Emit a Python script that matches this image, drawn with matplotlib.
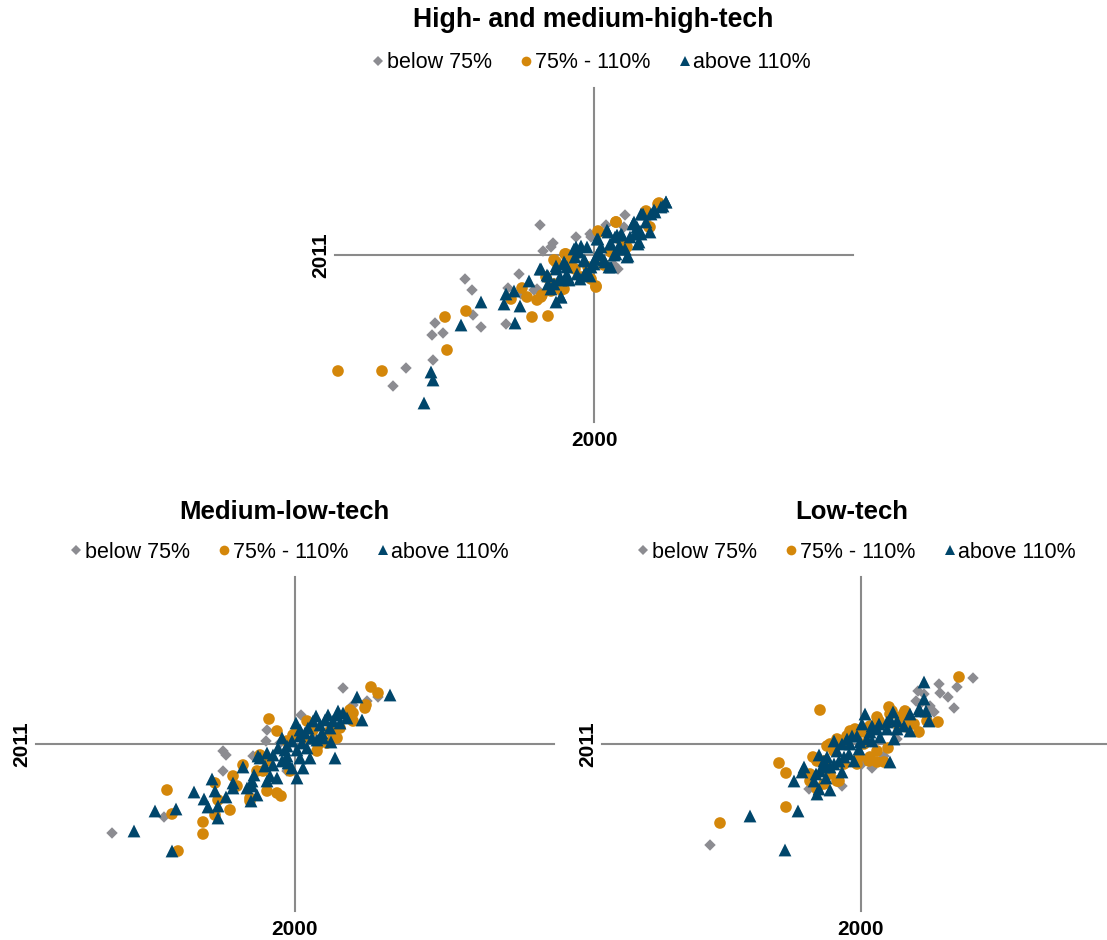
import matplotlib
matplotlib.use('Agg')
import matplotlib.pyplot as plt
from matplotlib.lines import Line2D

plt.rcParams['font.family'] = ['Liberation Sans', 'DejaVu Sans']

GRAY = '#8c8c91'
ORANGE = '#d4870a'
NAVY = '#00466b'

labels = ['below 75%', '75% - 110%', 'above 110%']
titles = ['High- and medium-high-tech', 'Medium-low-tech', 'Low-tech']
x_label = '2000'
y_label = '2011'

# High- and medium-high-tech
hi_below_x = [-0.54, -0.41, -0.43, -0.51, -0.18, 0.12, 0.31, -0.75, -0.86, -0.88, -1.29, -1.22, -1.21, -1.13,
              -1.59, -1.62, -1.51, -1.61, -1.88, -2.01, -0.60, -0.57, -0.73, -0.03, 0.20, 0.30, -0.38, 0.55, -0.20,
              -0.04, 0.24]
hi_below_y = [0.30, 0.12, 0.08, 0.04, 0.18, 0.30, 0.40, -0.19, -0.33, -0.69, -0.24, -0.35, -0.60, -0.72,
              -0.68, -0.80, -0.78, -1.05, -1.13, -1.31, -0.35, -0.34, -0.39, 0.18, -0.10, 0.28, -0.05, 0.38, -0.12,
              0.21, -0.14]
hi_mid_x = [-2.56, -2.12, -1.47, -1.49, -1.28, -0.62, -0.46, 0.02, -0.57, -0.67, -0.52, -0.72, -0.83, -0.40, -0.28,
            -0.20, 0.05, 0.22, 0.55, 0.65, -0.33, -0.30, -0.13, -0.03, 0.10, 0.17, 0.33, -0.23, -0.48, -0.40,
            -0.38, -0.29, -0.31, 0.04, 0.22, 0.52, 0.64, 0.56, -0.06, 0.02, -0.43, -0.53, 0.26, -0.19]
hi_mid_y = [-1.16, -1.16, -0.95, -0.62, -0.56, -0.62, -0.61, -0.31, -0.45, -0.42, -0.40, -0.33, -0.44, -0.05, 0.01,
            -0.02, 0.23, 0.33, 0.28, 0.52, -0.35, -0.34, -0.22, -0.24, -0.10, 0.03, 0.08, -0.07, -0.22, -0.29,
            -0.07, 0.01, -0.32, 0.24, 0.33, 0.44, 0.51, 0.28, -0.12, -0.32, -0.36, -0.42, 0.16, -0.14]
hi_above_x = [-1.70, -1.63, -1.61, -1.33, -1.13, -0.79, -0.90, -0.88, -0.74, -0.80, -0.65, -0.54, -0.47, -0.38,
              -0.33, -0.40, -0.28, -0.27, -0.20, -0.10, -0.15, -0.03, -0.10, -0.17, 0.03, 0.13, 0.23, 0.27, 0.17,
              0.10, 0.15, 0.33, 0.40, 0.47, 0.60, 0.72, 0.67, 0.45, 0.47, 0.43, 0.03, 0.07, 0.20, 0.28, -0.07,
              -0.33, -0.25, -0.43, -0.38, -0.30, 0.00,
              -0.53, -0.46, -0.38, -0.29, -0.28, -0.18, -0.13, -0.09, -0.08, 0.01, 0.04, 0.06, 0.14, 0.16, 0.17,
              0.21, 0.22, 0.25, 0.27, 0.31, 0.34, 0.36, 0.39, 0.41, 0.44, 0.46, 0.49, 0.52, 0.57, 0.61, 0.69,
              0.72, 0.56, 0.11, -0.19, -0.26, -0.34, -0.46, -0.33, -0.14, -0.04]
hi_above_y = [-1.48, -1.17, -1.25, -0.70, -0.47, -0.68, -0.49, -0.39, -0.51, -0.36, -0.26, -0.14, -0.20, -0.47,
              -0.42, -0.29, -0.22, -0.12, 0.06, -0.05, 0.03, -0.12, -0.20, -0.19, 0.16, 0.25, 0.20, 0.06, 0.11,
              -0.05, -0.12, -0.02, 0.33, 0.41, 0.45, 0.53, 0.48, 0.13, 0.21, 0.28, 0.00, 0.08, 0.00, 0.20, 0.08,
              -0.25, -0.25, -0.34, -0.14, -0.07, -0.09,
              -0.14, -0.21, -0.11, -0.09, -0.21, 0.08, 0.09, -0.06, -0.17, -0.04, 0.16, 0.01, 0.23, 0.11, -0.12,
              0.18, 0.01, 0.09, 0.21, 0.06, -0.01, 0.18, 0.31, 0.21, 0.11, 0.24, 0.41, 0.33, 0.41, 0.43, 0.49,
              0.53, 0.23, -0.07, -0.02, -0.22, -0.22, -0.29, -0.42, -0.24, -0.21]

# Medium-low-tech
ml_below_x = [-1.83, -1.31, -0.72, -0.69, -0.72, -0.28, -0.29, 0.06, 0.48, 0.83, 0.72, 0.58, -0.42, -0.08, 0.18, -0.15]
ml_below_y = [-0.89, -0.73, -0.07, -0.11, -0.27, 0.14, 0.03, 0.29, 0.56, 0.47, 0.43, 0.39, -0.12, -0.27, 0.06, 0.01]
ml_mid_x = [-1.28, -1.23, -0.92, -0.92, -1.17, -0.80, -0.65, -0.80, -0.77, -0.62, -0.58, -0.52, -0.26, -0.18,
            -0.28, -0.18, -0.14, -0.45, -0.05, -0.02, 0.22, 0.38, 0.58, 0.70, 0.71, 0.76, 0.83, 0.55, -0.32,
            -0.35, 0.12, 0.32,
            0.02, 0.08, 0.18, 0.35, 0.42, 0.45, 0.58, -0.38, -0.28, -0.08, 0.23, -0.45]
ml_mid_y = [-0.46, -0.70, -0.78, -0.90, -1.07, -0.71, -0.66, -0.39, -0.56, -0.32, -0.42, -0.21, 0.25, 0.13,
            -0.47, -0.49, -0.52, -0.57, -0.27, 0.09, -0.07, 0.09, 0.23, 0.36, 0.39, 0.57, 0.51, 0.34, -0.27,
            -0.11, 0.23, 0.01,
            0.13, 0.06, 0.14, 0.13, 0.06, 0.16, 0.31, -0.27, -0.17, 0.03, -0.01, -0.54]
ml_above_x = [-1.61, -1.40, -1.19, -1.23, -1.01, -0.91, -0.87, -0.77, -0.77, -0.83, -0.80, -0.69, -0.62, -0.62,
              -0.52, -0.44, -0.43, -0.41, -0.38, -0.37, -0.28, -0.25, -0.18, -0.22, -0.13, -0.13, -0.10, -0.07,
              0.02, 0.02, 0.05, 0.08, 0.01, 0.05, 0.12, 0.13, 0.21, 0.22, 0.25, 0.28, 0.33, 0.35, 0.36, 0.40,
              0.43, 0.45, 0.52, 0.62, 0.67, 0.95, -0.03, 0.15,
              -0.35, -0.30, -0.22, -0.17, -0.08, -0.03, 0.07, 0.10, 0.17, 0.18, 0.27, 0.30, 0.38, 0.42, 0.48,
              0.05, -0.08, -0.43, -0.48, -0.28]
ml_above_y = [-0.87, -0.67, -0.65, -1.07, -0.48, -0.55, -0.63, -0.74, -0.62, -0.35, -0.47, -0.53, -0.39, -0.44,
              -0.23, -0.57, -0.42, -0.31, -0.51, -0.12, -0.09, -0.32, -0.34, -0.21, -0.17, 0.06, -0.06, -0.19,
              -0.34, -0.06, -0.14, -0.24, 0.21, 0.08, -0.04, 0.16, 0.28, 0.04, 0.19, 0.06, 0.29, 0.16, 0.02, -0.14,
              0.33, 0.21, 0.26, 0.47, 0.24, 0.49, 0.03, -0.14,
              -0.14, -0.22, -0.11, -0.04, -0.12, -0.24, 0.01, 0.11, 0.06, 0.23, 0.11, 0.24, 0.23, 0.29, 0.31,
              0.14, -0.02, -0.37, -0.44, -0.37]

# Low-tech
lo_below_x = [-1.51, 0.78, 0.96, 1.12, 0.79, 0.87, 0.93, 0.57, 0.55, 0.73, 0.23, 0.11, 0.01, -0.19, -0.52, 0.43, 0.36,
              0.63, 0.59, 0.69]
lo_below_y = [-1.01, 0.60, 0.57, 0.66, 0.51, 0.47, 0.36, 0.53, 0.43, 0.32, -0.12, -0.24, -0.20, -0.42, -0.45, 0.33, 0.05,
              0.50, 0.40, 0.38]
lo_mid_x = [-1.41, -0.75, -0.82, -0.75, -0.41, -0.48, -0.51, -0.44, -0.37, -0.34, -0.22, -0.21, -0.14, -0.06,
            0.08, 0.16, 0.18, 0.28, 0.27, 0.31, 0.44, 0.49, 0.58, 0.66, 0.77, 0.98, -0.02, -0.27, 0.03, 0.23, 0.38,
            -0.31, -0.24, -0.14, -0.11, 0.03, 0.09, 0.16, 0.29, 0.39, 0.46, 0.53, -0.37, -0.31, -0.17, -0.04,
            0.09, 0.16, -0.44, -0.51, -0.24]
lo_mid_y = [-0.79, -0.63, -0.19, -0.29, 0.34, -0.13, -0.30, -0.45, -0.40, -0.02, -0.37, 0.03, 0.08, 0.15,
            -0.17, -0.18, 0.23, 0.37, -0.04, 0.33, 0.33, 0.23, 0.12, 0.23, 0.22, 0.67, -0.13, -0.07, 0.00, -0.18, 0.17,
            0.00, 0.05, 0.03, 0.13, 0.12, 0.18, 0.27, 0.30, 0.27, 0.17, 0.20, -0.17, -0.30, -0.20, -0.20,
            -0.13, -0.07, -0.17, -0.37, -0.37]
lo_above_x = [-1.11, -0.76, -0.63, -0.67, -0.57, -0.59, -0.44, -0.42, -0.45, -0.31, -0.35, -0.42, -0.37, -0.31,
              -0.24, -0.19, -0.22, -0.14, -0.12, -0.07, -0.01, -0.02, 0.01, 0.04, 0.06, 0.11, 0.18, 0.19, 0.26,
              0.29, 0.32, 0.33, 0.36, 0.29, 0.49, 0.58, 0.63, 0.63, 0.65, 0.68, 0.11, -0.09, -0.37,
              -0.27, -0.19, -0.11, -0.04, 0.09, 0.16, 0.26, 0.36, 0.43, 0.49, 0.59, -0.34, -0.27, -0.17, -0.41, -0.47]
lo_above_y = [-0.72, -1.06, -0.67, -0.37, -0.23, -0.28, -0.50, -0.45, -0.30, -0.46, -0.34, -0.11, -0.17, -0.23,
              -0.07, -0.28, -0.17, 0.05, -0.10, -0.17, 0.02, -0.05, 0.20, 0.30, 0.05, 0.03, 0.20, 0.07, 0.15,
              0.25, 0.32, 0.05, 0.15, -0.18, 0.13, 0.35, 0.45, 0.62, 0.33, 0.23, 0.18, 0.08, -0.23,
              0.03, 0.00, 0.00, 0.08, 0.12, 0.15, 0.22, 0.23, 0.18, 0.30, 0.33, -0.13, -0.20, -0.13, -0.27, -0.37]

panels = [
    (hi_below_x, hi_below_y, hi_mid_x, hi_mid_y, hi_above_x, hi_above_y),
    (ml_below_x, ml_below_y, ml_mid_x, ml_mid_y, ml_above_x, ml_above_y),
    (lo_below_x, lo_below_y, lo_mid_x, lo_mid_y, lo_above_x, lo_above_y),
]

W, H = 1107, 940
fig = plt.figure(figsize=(W / 100, H / 100), dpi=100)

# axes boxes in pixels: left, top, width, height
boxes = [(335, 88, 518, 334), (36, 577, 518, 334), (602, 577, 518, 334)]
title_pos = [(593, 20), (284, 512), (852, 512)]
title_size = [19.2, 18.5, 18.5]
legend_pos = [(592, 63), (290, 552), (857, 552)]

for i, (bx, by, mx, my, ax_, ay_) in enumerate(panels):
    l, t, w, h = boxes[i]
    ax = fig.add_axes([l / W, 1 - (t + h) / H, w / W, h / H])
    ax.scatter(bx, by, marker='D', s=34, color=GRAY, edgecolors='none', zorder=3, clip_on=False)
    ax.scatter(mx, my, marker='o', s=70, color=ORANGE, edgecolors='none', zorder=4, clip_on=False)
    ax.scatter(ax_, ay_, marker='^', s=85, color=NAVY, edgecolors='none', zorder=5, clip_on=False)
    ax.set_xlim(-2.59, 2.59)
    ax.set_ylim(-1.67, 1.67)
    for side in ['top', 'right']:
        ax.spines[side].set_visible(False)
    for side in ['left', 'bottom']:
        ax.spines[side].set_position('zero')
        ax.spines[side].set_color('#8a8a8a')
        ax.spines[side].set_linewidth(1.5)
    ax.set_xticks([])
    ax.set_yticks([])
    ax.patch.set_alpha(0)
    ax.text(0.5, -0.026, x_label, transform=ax.transAxes, ha='center', va='top',
            fontsize=15, fontweight='bold')
    ax.text(-0.01, 0.5, y_label, transform=ax.transAxes, ha='right', va='center',
            rotation=90, fontsize=15, fontweight='bold')

    tx, ty = title_pos[i]
    fig.text(tx / W, 1 - ty / H, titles[i], ha='center', va='center', fontsize=title_size[i], fontweight='bold')

    handles = [
        Line2D([], [], linestyle='none', marker='D', markersize=5, color=GRAY, markeredgewidth=0),
        Line2D([], [], linestyle='none', marker='o', markersize=7, color=ORANGE, markeredgewidth=0),
        Line2D([], [], linestyle='none', marker='^', markersize=7, color=NAVY, markeredgewidth=0),
    ]
    lx, ly = legend_pos[i]
    fig.legend(handles, labels, loc='center', bbox_to_anchor=(lx / W, 1 - ly / H), ncol=3,
               frameon=False, fontsize=15.5, handlelength=0.5, handletextpad=0.15,
               columnspacing=1.35, borderpad=0, borderaxespad=0)

fig.savefig('out.png', dpi=100)
